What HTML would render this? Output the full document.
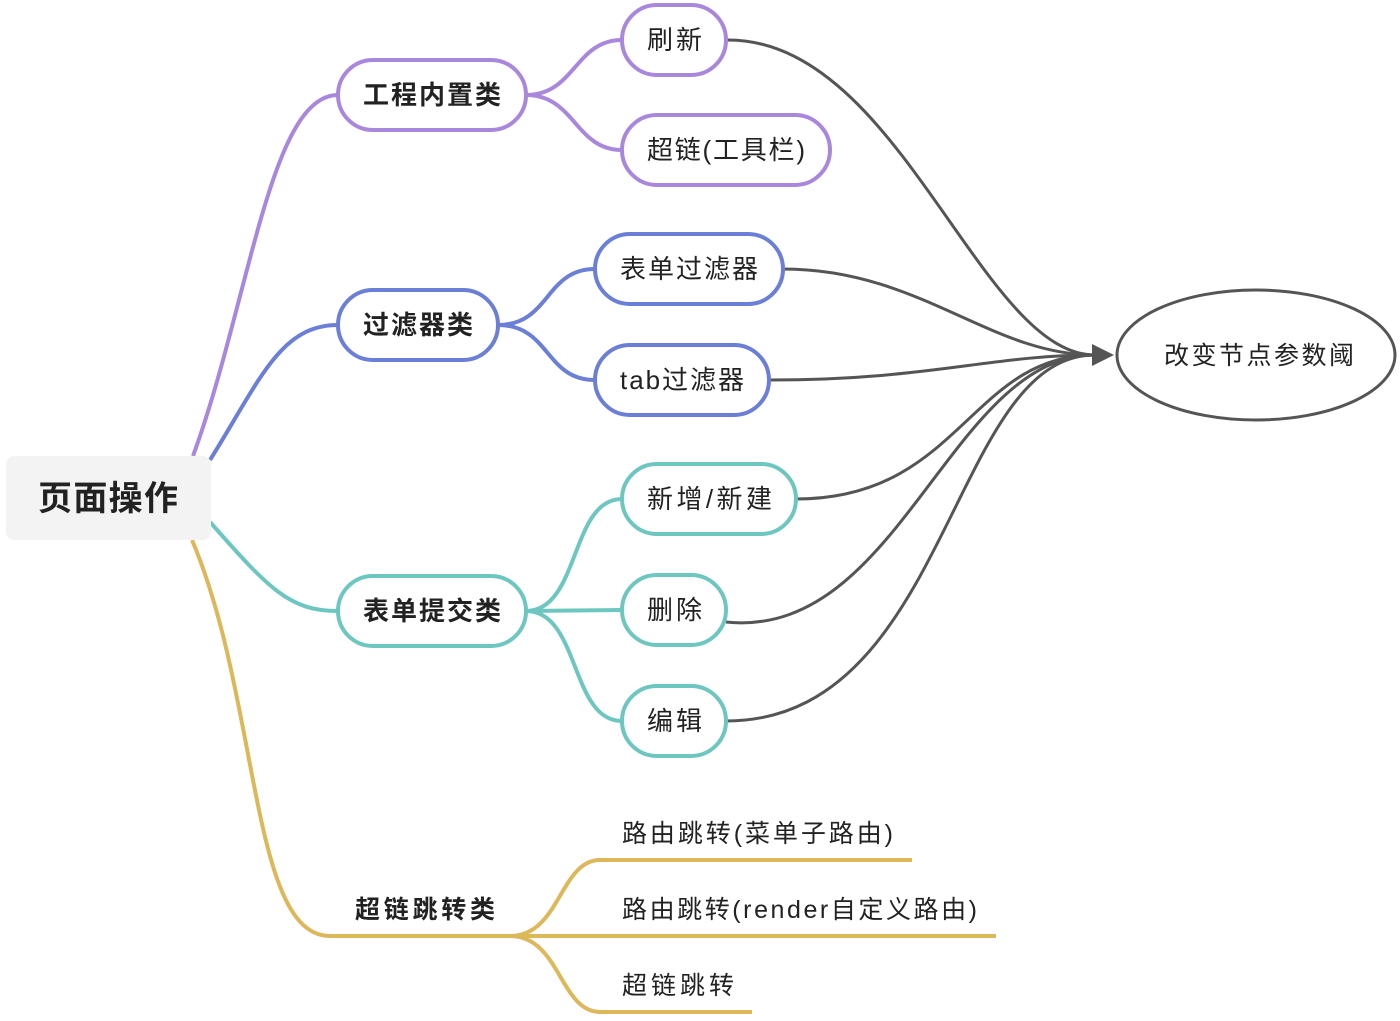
<!DOCTYPE html>
<html><head><meta charset="utf-8"><style>
html,body{margin:0;padding:0;background:#fff;}
svg text{font-family:"Liberation Sans","Noto Sans CJK SC",sans-serif;fill:#222;}
</style></head><body>
<svg width="1400" height="1016" viewBox="0 0 1400 1016" xmlns="http://www.w3.org/2000/svg">
<g fill="none" stroke-width="4">
<path d="M193,456 C250,300 270,95 338,95" stroke="#a987dd"/>
<path d="M526,95 C575,95 575,40 622,40" stroke="#a987dd"/>
<path d="M526,95 C575,95 575,150 622,150" stroke="#a987dd"/>
<path d="M210,460 C260,380 280,325 338,325" stroke="#6b7fd7"/>
<path d="M498,325 C550,325 545,269 595,269" stroke="#6b7fd7"/>
<path d="M498,325 C550,325 545,380 595,380" stroke="#6b7fd7"/>
<path d="M210,522 C270,590 290,611 338,611" stroke="#6ec6c0"/>
<path d="M526,611 C580,611 570,499 622,499" stroke="#6ec6c0"/>
<path d="M526,611 L622,610" stroke="#6ec6c0"/>
<path d="M526,611 C580,611 570,721 622,721" stroke="#6ec6c0"/>
<path d="M192,540 C260,700 250,936 330,936 L530,936" stroke="#ddb85a"/>
<path d="M510,936 C560,936 560,860 600,860 L912,860" stroke="#ddb85a"/>
<path d="M530,936 L996,936" stroke="#ddb85a"/>
<path d="M510,936 C560,936 560,1012 600,1012 L752,1012" stroke="#ddb85a"/>
</g>
<g fill="none" stroke="#555" stroke-width="3">
<path d="M728,40 C900,40 980,355 1095,355"/>
<path d="M783,269 C920,269 990,355 1095,355"/>
<path d="M769,380 C930,380 990,355 1095,355"/>
<path d="M796,499 C960,499 970,355 1095,355"/>
<path d="M726,622 C900,640 950,355 1095,355"/>
<path d="M726,721 C950,721 950,355 1095,355"/>
</g>
<polygon points="1092,344 1114,355 1092,366" fill="#555"/>
<ellipse cx="1256" cy="355" rx="139" ry="65" fill="#fff" stroke="#555" stroke-width="3"/>
<text x="1164" y="364" font-size="25" textLength="190">改变节点参数阈</text>
<rect x="6" y="456" width="205" height="84" rx="8" fill="#f3f3f3"/>
<text x="38" y="510" font-size="34" font-weight="bold" textLength="140">页面操作</text>
<g fill="#fff" stroke-width="4">
<rect x="338" y="60" width="188" height="70" rx="35" stroke="#a987dd"/>
<rect x="622" y="5" width="104" height="70" rx="35" stroke="#a987dd"/>
<rect x="622" y="115" width="208" height="70" rx="35" stroke="#a987dd"/>
<rect x="338" y="290" width="160" height="70" rx="35" stroke="#6b7fd7"/>
<rect x="595" y="234" width="188" height="70" rx="35" stroke="#6b7fd7"/>
<rect x="595" y="345" width="174" height="70" rx="35" stroke="#6b7fd7"/>
<rect x="338" y="576" width="188" height="70" rx="35" stroke="#6ec6c0"/>
<rect x="622" y="464" width="174" height="70" rx="35" stroke="#6ec6c0"/>
<rect x="622" y="575" width="104" height="70" rx="35" stroke="#6ec6c0"/>
<rect x="622" y="686" width="104" height="70" rx="35" stroke="#6ec6c0"/>
</g>
<g font-size="26">
<text x="363" y="104" font-weight="bold" textLength="138">工程内置类</text>
<text x="647" y="49" textLength="55">刷新</text>
<text x="647" y="159" textLength="158">超链(工具栏)</text>
<text x="363" y="334" font-weight="bold" textLength="110">过滤器类</text>
<text x="620" y="278" textLength="138">表单过滤器</text>
<text x="620" y="389" textLength="124">tab过滤器</text>
<text x="363" y="620" font-weight="bold" textLength="138">表单提交类</text>
<text x="647" y="508" textLength="125">新增/新建</text>
<text x="647" y="619" textLength="55">删除</text>
<text x="647" y="730" textLength="55">编辑</text>
</g>
<g font-size="25">
<text x="355" y="918" font-weight="bold" textLength="140">超链跳转类</text>
<text x="622" y="842" textLength="271">路由跳转(菜单子路由)</text>
<text x="622" y="918" textLength="355">路由跳转(render自定义路由)</text>
<text x="622" y="994" textLength="112">超链跳转</text>
</g>
</svg>
</body></html>
